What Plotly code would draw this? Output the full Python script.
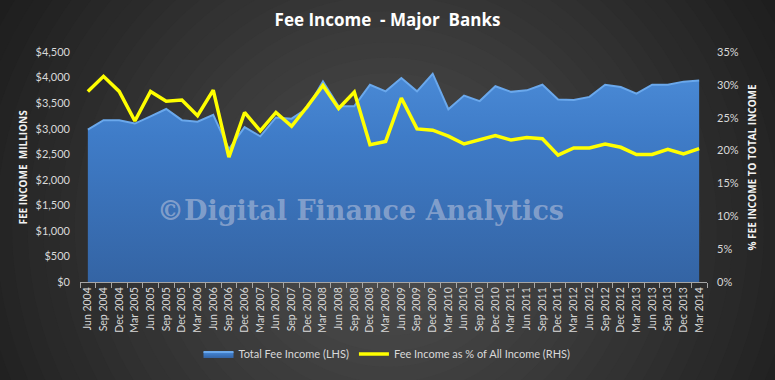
import plotly.graph_objects as go

quarters = ["Jun 2004", "Sep 2004", "Dec 2004", "Mar 2005", "Jun 2005", "Sep 2005", "Dec 2005",
            "Mar 2006", "Jun 2006", "Sep 2006", "Dec 2006", "Mar 2007", "Jun 2007", "Sep 2007",
            "Dec 2007", "Mar 2008", "Jun 2008", "Sep 2008", "Dec 2008", "Mar 2009", "Jun 2009",
            "Sep 2009", "Dec 2009", "Mar 2010", "Jun 2010", "Sep 2010", "Dec 2010", "Mar 2011",
            "Jun 2011", "Sep 2011", "Dec 2011", "Mar 2012", "Jun 2012", "Sep 2012", "Dec 2012",
            "Mar 2013", "Jun 2013", "Sep 2013", "Dec 2013", "Mar 2014"]

fee_income = [2980, 3166, 3166, 3100, 3240, 3385, 3166, 3135, 3270, 2600,
              3030, 2850, 3220, 3195, 3400, 3925, 3440, 3440, 3860, 3730,
              3990, 3730, 4075, 3380, 3648, 3540, 3830, 3720, 3750, 3860,
              3570, 3560, 3622, 3860, 3816, 3687, 3860, 3860, 3920, 3940]

fee_pct = [29.0, 31.3, 29.0, 24.5, 29.0, 27.5, 27.7, 25.3, 29.2, 19.0,
           25.8, 23.0, 25.8, 23.7, 26.7, 29.9, 26.4, 28.9, 20.9, 21.4,
           28.0, 23.3, 23.1, 22.2, 21.0, 21.6, 22.3, 21.6, 22.0, 21.8,
           19.3, 20.4, 20.4, 21.0, 20.5, 19.4, 19.4, 20.2, 19.5, 20.3]

left_ticks = [0, 500, 1000, 1500, 2000, 2500, 3000, 3500, 4000, 4500]
left_labels = ["$" + f"{v:,}" for v in left_ticks]
right_ticks = [0, 0.05, 0.10, 0.15, 0.20, 0.25, 0.30, 0.35]

W, H = 775, 380
L, R, T, B = 80, 707, 52, 285
PW, PH = R - L, B - T


def px2paper(px, py):
    return (px - L) / PW, (B - py) / PH


fig = go.Figure()

fig.add_trace(go.Scatter(
    x=quarters, y=fee_income, name="Total Fee Income (LHS)",
    mode="lines", fill="tozeroy",
    line=dict(color="#6aa8ec", width=2),
    fillgradient=dict(type="vertical",
                      colorscale=[[0, "#3464a4"], [0.7, "#3f7cc8"], [1, "#4a8ad6"]]),
    fillcolor="#3f7cc8",
    yaxis="y",
))

fig.add_trace(go.Scatter(
    x=quarters, y=[v / 100 for v in fee_pct], name="Fee Income as % of All Income (RHS)",
    mode="lines", line=dict(color="#ffff00", width=3.5),
    yaxis="y2",
))

# radial background
shapes = []
cx, cy = 388, 230
rmax = 470
N = 30
c0, c1 = 0x52, 0x1c
for i in range(N):
    r = rmax * (1 - i / N)
    t = r / rmax
    g = int(round(c0 + (c1 - c0) * t))
    col = f"rgb({g},{g},{g})"
    x0, y0 = px2paper(cx - r, cy + r)
    x1, y1 = px2paper(cx + r, cy - r)
    shapes.append(dict(type="circle", xref="paper", yref="paper",
                       x0=x0, y0=y0, x1=x1, y1=y1,
                       fillcolor=col, line=dict(width=0), layer="below"))

tickfont = dict(family="Lato, Open Sans, sans-serif", size=11, color="#d9d9d9")

wx, wy = px2paper(360, 213)
lx, ly = px2paper(23, 169)
rx, ry = px2paper(752, 169)
legx = px2paper(387, 0)[0]
legy = px2paper(0, 358)[1]

fig.update_layout(
    width=W, height=H,
    margin=dict(l=L, r=W - R, t=T, b=H - B),
    paper_bgcolor="#1c1c1c",
    plot_bgcolor="rgba(0,0,0,0)",
    shapes=shapes,
    title=dict(text="<b>Fee Income  - Major  Banks</b>", x=0.5, xanchor="center",
               y=1 - 20 / H, yanchor="middle",
               font=dict(family="Open Sans, sans-serif", size=17, color="#ffffff")),
    xaxis=dict(type="category", range=[-0.5, len(quarters) - 0.5],
               tickangle=-90, tickfont=dict(family="Lato, Open Sans, sans-serif", size=10.5, color="#d9d9d9"),
               showgrid=False, zeroline=False,
               showline=True, linecolor="#a6a6a6", linewidth=1,
               ticks="outside", ticklen=5, tickcolor="#a6a6a6", tickson="boundaries"),
    yaxis=dict(range=[0, 4500], tickvals=left_ticks, ticktext=left_labels,
               showgrid=False, zeroline=False, showline=False, tickfont=tickfont, ticks="",
               ticklabelstandoff=9),
    yaxis2=dict(range=[0, 0.35], tickvals=right_ticks, tickformat=".0%", overlaying="y",
                side="right", showgrid=False, zeroline=False, showline=False,
                tickfont=tickfont, ticks="", ticklabelstandoff=9),
    legend=dict(orientation="h", x=legx, xanchor="center", y=legy, yanchor="middle",
                font=dict(family="Lato, Open Sans, sans-serif", size=11, color="#d9d9d9"),
                bgcolor="rgba(0,0,0,0)", itemwidth=30),
    showlegend=True,
    annotations=[
        dict(text="<b>©Digital Finance Analytics</b>", xref="paper", yref="paper",
             x=wx, y=wy, showarrow=False, xanchor="center", yanchor="middle",
             font=dict(family="DejaVu Serif, serif", size=27, color="rgba(170,185,215,0.65)")),
        dict(text="<b>FEE INCOME  MILLIONS</b>", xref="paper", yref="paper",
             x=lx, y=ly, showarrow=False, textangle=-90, xanchor="center", yanchor="middle",
             font=dict(family="Open Sans, sans-serif", size=10, color="#f2f2f2")),
        dict(text="<b>% FEE INCOME TO TOTAL INCOME</b>", xref="paper", yref="paper",
             x=rx, y=ry, showarrow=False, textangle=-90, xanchor="center", yanchor="middle",
             font=dict(family="Open Sans, sans-serif", size=10, color="#f2f2f2")),
    ],
)

fig.write_html("out.html",
               config={"displayModeBar": False},
               post_script="document.body.style.margin='0';document.body.style.background='#1c1c1c';")
